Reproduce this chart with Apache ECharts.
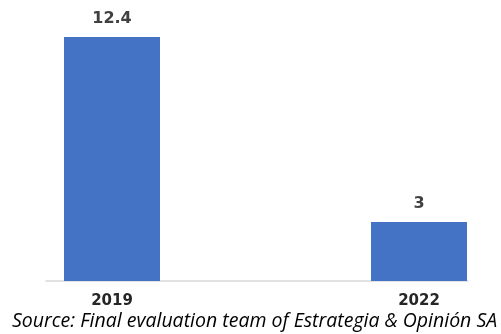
<!DOCTYPE html>
<html>
<head>
<meta charset="utf-8">
<script src="https://cdn.jsdelivr.net/npm/echarts@6/dist/echarts.min.js"></script>
<style>html,body{margin:0;padding:0;background:#fff;}#c{width:501px;height:334px;}</style>
</head>
<body>
<div id="c"></div>
<script>
var categories = ['2019', '2022'];
var values = [12.4, 3];
var sourceText = 'Source: Final evaluation team of Estrategia & Opinión SA';

var barData = values.map(function (v, i) { return [i, v]; });
var catPositions = categories.map(function (c, i) { return i; });

var chart = echarts.init(document.getElementById('c'), null, {renderer: 'canvas'});
chart.setOption({
  animation: false,
  title: {
    text: sourceText,
    left: 12,
    top: 311,
    padding: 0,
    textStyle: {fontFamily: 'Open Sans', fontStyle: 'italic', fontWeight: 'normal', fontSize: 19.5, color: '#000'}
  },
  grid: {left: 46, right: 33, top: 5.5, bottom: 53},
  xAxis: {
    type: 'value', min: -0.215, max: 1.1596,
    axisLine: {show: true, onZero: false, lineStyle: {color: '#d9d9d9', width: 1.5}},
    axisTick: {show: false},
    splitLine: {show: false},
    axisLabel: {
      customValues: catPositions,
      formatter: function (v) { return categories[Math.round(v)] || ''; },
      margin: 13, fontFamily: 'DejaVu Sans', fontWeight: 'bold', fontSize: 15, color: '#262626'
    }
  },
  yAxis: {type: 'value', min: 0, max: 14, show: false, splitLine: {show: false}},
  series: [{
    type: 'bar',
    data: barData,
    barWidth: 96,
    itemStyle: {color: '#4472C4'},
    label: {
      show: true, position: 'top', distance: 10,
      formatter: function (p) { return p.value[1]; },
      fontFamily: 'DejaVu Sans', fontWeight: 'bold', fontSize: 16, color: '#404040'
    }
  }]
});
</script>
</body>
</html>
